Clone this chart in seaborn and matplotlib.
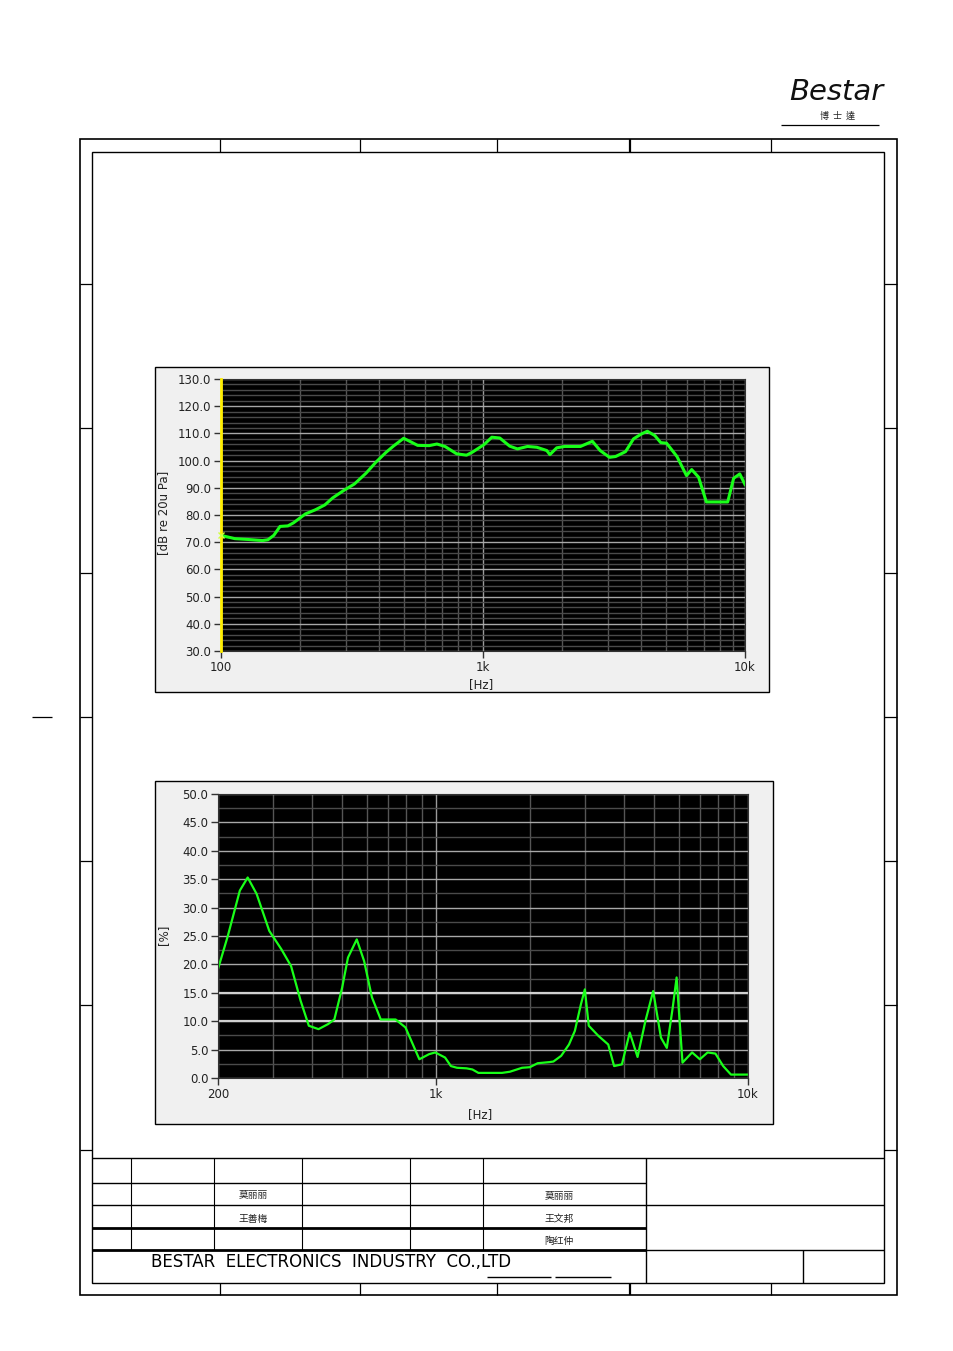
import numpy as np
import pandas as pd
import matplotlib
matplotlib.use('Agg')
import matplotlib.pyplot as plt
from matplotlib.patches import Rectangle
from matplotlib.ticker import LogLocator, MultipleLocator, NullFormatter, FixedLocator
import seaborn as sns

W, H = 954, 1351

# frequency response curve
spl_freq = [100, 113, 127, 144, 151, 159, 168, 180, 189, 210, 229, 249, 267, 296, 323,
            358, 390, 426, 456, 498, 525, 563, 623, 667, 716, 793, 865, 911, 1010, 1081,
            1159, 1265, 1354, 1478, 1605, 1752, 1800, 1911, 2049, 2355, 2615, 2800, 3040,
            3207, 3500, 3755, 4025, 4240, 4526, 4770, 5020, 5500, 5980, 6260, 6650, 7120,
            8590, 9050, 9550, 10000]
spl_db = [72.5, 71.3, 71.0, 70.6, 70.9, 72.5, 75.8, 76.0, 77.1, 80.4, 81.9, 83.7, 86.3, 89.2, 91.4,
          95.4, 99.4, 103.0, 105.4, 108.2, 107.1, 105.6, 105.5, 106.1, 105.2, 102.5, 102.0, 103.1, 105.9, 108.6,
          108.3, 105.3, 104.3, 105.2, 104.9, 103.7, 102.2, 104.7, 105.2, 105.2, 107.1, 103.7, 101.2,
          101.5, 103.3, 108.0, 109.8, 110.8, 109.2, 106.6, 106.4, 101.5, 94.5, 96.7, 93.9, 84.8,
          84.8, 93.5, 95.1, 91.2]

# distortion curve
thd_freq = [200, 215, 235, 249, 266, 292, 319, 343, 368, 391, 420, 451, 472, 500, 522, 557,
            588, 623, 665, 742, 798, 884, 950, 994, 1069, 1116, 1167, 1253, 1308, 1367, 1627,
            1724, 1887, 1998, 2117, 2309, 2378, 2518, 2668, 2786, 2914, 2999, 3087, 3317, 3564,
            3722, 3943, 4177, 4425, 4688, 4966, 5260, 5493, 5737, 5904, 6166, 6619, 7010, 7424,
            7862, 8326, 8818, 10000]
thd_pct = [19.2, 25.0, 33.0, 35.3, 32.4, 25.9, 22.7, 19.7, 13.6, 9.2, 8.6, 9.5, 10.3, 15.9, 21.2, 24.4,
           20.6, 14.2, 10.3, 10.3, 8.9, 3.3, 4.2, 4.5, 3.6, 2.1, 1.8, 1.7, 1.5, 0.9, 0.9,
           1.1, 1.8, 1.9, 2.6, 2.8, 2.9, 3.9, 5.9, 8.3, 13.0, 15.6, 9.2, 7.4, 5.9,
           2.1, 2.4, 8.0, 3.7, 10.0, 15.3, 7.1, 5.3, 12.4, 17.7, 2.7, 4.5, 3.3, 4.5,
           4.3, 2.1, 0.6, 0.6]

spl_yticks = list(range(30, 131, 10))
thd_yticks = [0, 5, 10, 15, 20, 25, 30, 35, 40, 45, 50]
spl_xticks = [100, 1000, 10000]
spl_xlabels = ['100', '1k', '10k']
thd_xticks = [200, 1000, 10000]
thd_xlabels = ['200', '1k', '10k']

names_left = ['莫丽丽', '王善梅']
names_right = ['莫丽丽', '王文邦', '陶红仲']
company = 'BESTAR  ELECTRONICS  INDUSTRY  CO.,LTD'


def rect(x0, y0, x1, y1):
    return [x0 / W, 1 - y1 / H, (x1 - x0) / W, (y1 - y0) / H]


fig = plt.figure(figsize=(W / 100, H / 100), dpi=100)
fig.patch.set_facecolor('white')

bg = fig.add_axes([0, 0, 1, 1], zorder=0)
bg.set_xlim(0, W)
bg.set_ylim(H, 0)
bg.axis('off')


def line(x0, y0, x1, y1, lw=1.0):
    bg.plot([x0, x1], [y0, y1], color='black', lw=lw, solid_capstyle='butt')


# page frame
bg.add_patch(Rectangle((80, 139), 817, 1156, fill=False, edgecolor='black', lw=1.2))
bg.add_patch(Rectangle((92, 152), 792, 1131, fill=False, edgecolor='black', lw=1.0))
for x in [220, 360, 497, 630, 771]:
    w = 1.6 if x == 630 else 0.9
    line(x, 139, x, 152, w)
    line(x, 1283, x, 1295, w)
for y in [284, 428, 573, 717, 861, 1005, 1150]:
    line(80, y, 92, y, 0.9)
    line(884, y, 897, y, 0.9)
line(32, 717, 52, 717, 0.9)

# logo
bg.text(836, 92, 'Bestar', fontsize=21, style='italic', ha='center', va='center', color='#111111')
bg.text(838, 116, '博  士  達', fontsize=6.5, ha='center', va='center', color='#222222',
        family=['Noto Sans CJK TC', 'DejaVu Sans'])
line(781, 125, 879, 125, 0.9)

# title block
line(92, 1158, 884, 1158)
line(92, 1183, 646, 1183)
line(92, 1205, 884, 1205)
line(92, 1228, 646, 1228, 2.0)
line(92, 1250, 646, 1250, 2.0)
line(646, 1250, 884, 1250)
for x in [131, 214, 302, 410, 483]:
    line(x, 1158, x, 1250, 0.8)
line(646, 1158, 646, 1283)
line(803, 1250, 803, 1283)
line(487, 1277, 551, 1277)
line(555, 1277, 611, 1277)
cjk = ['Noto Sans CJK SC', 'DejaVu Sans']
for i, name in enumerate(names_left):
    bg.text(253, 1195 + 24 * i, name, fontsize=7, ha='center', va='center', family=cjk, color='#222222')
for i, name in enumerate(names_right):
    bg.text(559, 1196 + 22.5 * i, name, fontsize=7, ha='center', va='center', family=cjk, color='#222222')
bg.text(151, 1262, company, fontsize=12, ha='left', va='center', color='black')

# chart panels
bg.add_patch(Rectangle((155, 367), 614, 325, facecolor='#f0f0f0', edgecolor='black', lw=1))
bg.add_patch(Rectangle((155, 781), 618, 343, facecolor='#f0f0f0', edgecolor='black', lw=1))


def style_axes(ax, xt, xl, yt, ymin, ymax, xmin, xmax, yminor):
    ax.set_facecolor('black')
    ax.set_xscale('log')
    ax.set_xlim(xmin, xmax)
    ax.set_ylim(ymin, ymax)
    ax.xaxis.set_major_locator(FixedLocator(xt))
    ax.set_xticklabels(xl)
    ax.xaxis.set_minor_locator(LogLocator(base=10, subs=range(2, 10)))
    ax.xaxis.set_minor_formatter(NullFormatter())
    ax.set_yticks(yt)
    ax.set_yticklabels([f'{v:.1f}' for v in yt])
    ax.yaxis.set_minor_locator(MultipleLocator(yminor))
    ax.xaxis.grid(True, which='minor', color='#555555', lw=1)
    ax.xaxis.grid(True, which='major', color='#9a9a9a', lw=1)
    ax.yaxis.grid(True, which='minor', color='#4a4a4a', lw=1)
    ax.yaxis.grid(True, which='major', color='#a8a8a8', lw=1)
    ax.tick_params(which='minor', length=0)
    ax.tick_params(which='major', length=5, width=1, color='#333333', labelsize=8.5,
                   labelcolor='#222222', pad=2)
    for s in ax.spines.values():
        s.set_color('#333333')
    ax.set_xlabel('')
    ax.set_ylabel('')


# frequency response
ax1 = fig.add_axes(rect(221, 379, 745, 651), zorder=2)
df1 = pd.DataFrame({'freq': spl_freq, 'spl': spl_db})
sns.lineplot(data=df1, x='freq', y='spl', ax=ax1, color='#19ff19', lw=2.2, sort=False)
style_axes(ax1, spl_xticks, spl_xlabels, spl_yticks, 30, 130, 100, 10000, 2)
ax1.axvline(100, color='#ffee00', lw=2, clip_on=False, zorder=3)
ax1.plot([spl_freq[0]], [spl_db[0]], marker='x', ms=4, color='#d0ff40', zorder=4, clip_on=False)
fig.text(164 / W, 1 - 513 / H, '[dB re 20u Pa]', rotation=90, ha='center', va='center',
         fontsize=8.5, color='#222222')
fig.text(481 / W, 1 - 685 / H, '[Hz]', ha='center', va='center', fontsize=8.5, color='#222222')

# distortion
ax2 = fig.add_axes(rect(218, 794, 748, 1078), zorder=2)
df2 = pd.DataFrame({'freq': thd_freq, 'thd': thd_pct})
sns.lineplot(data=df2, x='freq', y='thd', ax=ax2, color='#19ff19', lw=1.6, sort=False)
style_axes(ax2, thd_xticks, thd_xlabels, thd_yticks, 0, 50, 200, 10000, 2.5)
for v in [10, 15]:
    ax2.axhline(v, color='#d0d0d0', lw=1.6, zorder=1.6)
fig.text(164 / W, 1 - 935 / H, '[%]', rotation=90, ha='center', va='center',
         fontsize=8.5, color='#222222')
fig.text(480 / W, 1 - 1115 / H, '[Hz]', ha='center', va='center', fontsize=8.5, color='#222222')

fig.savefig('out.png', dpi=100)
